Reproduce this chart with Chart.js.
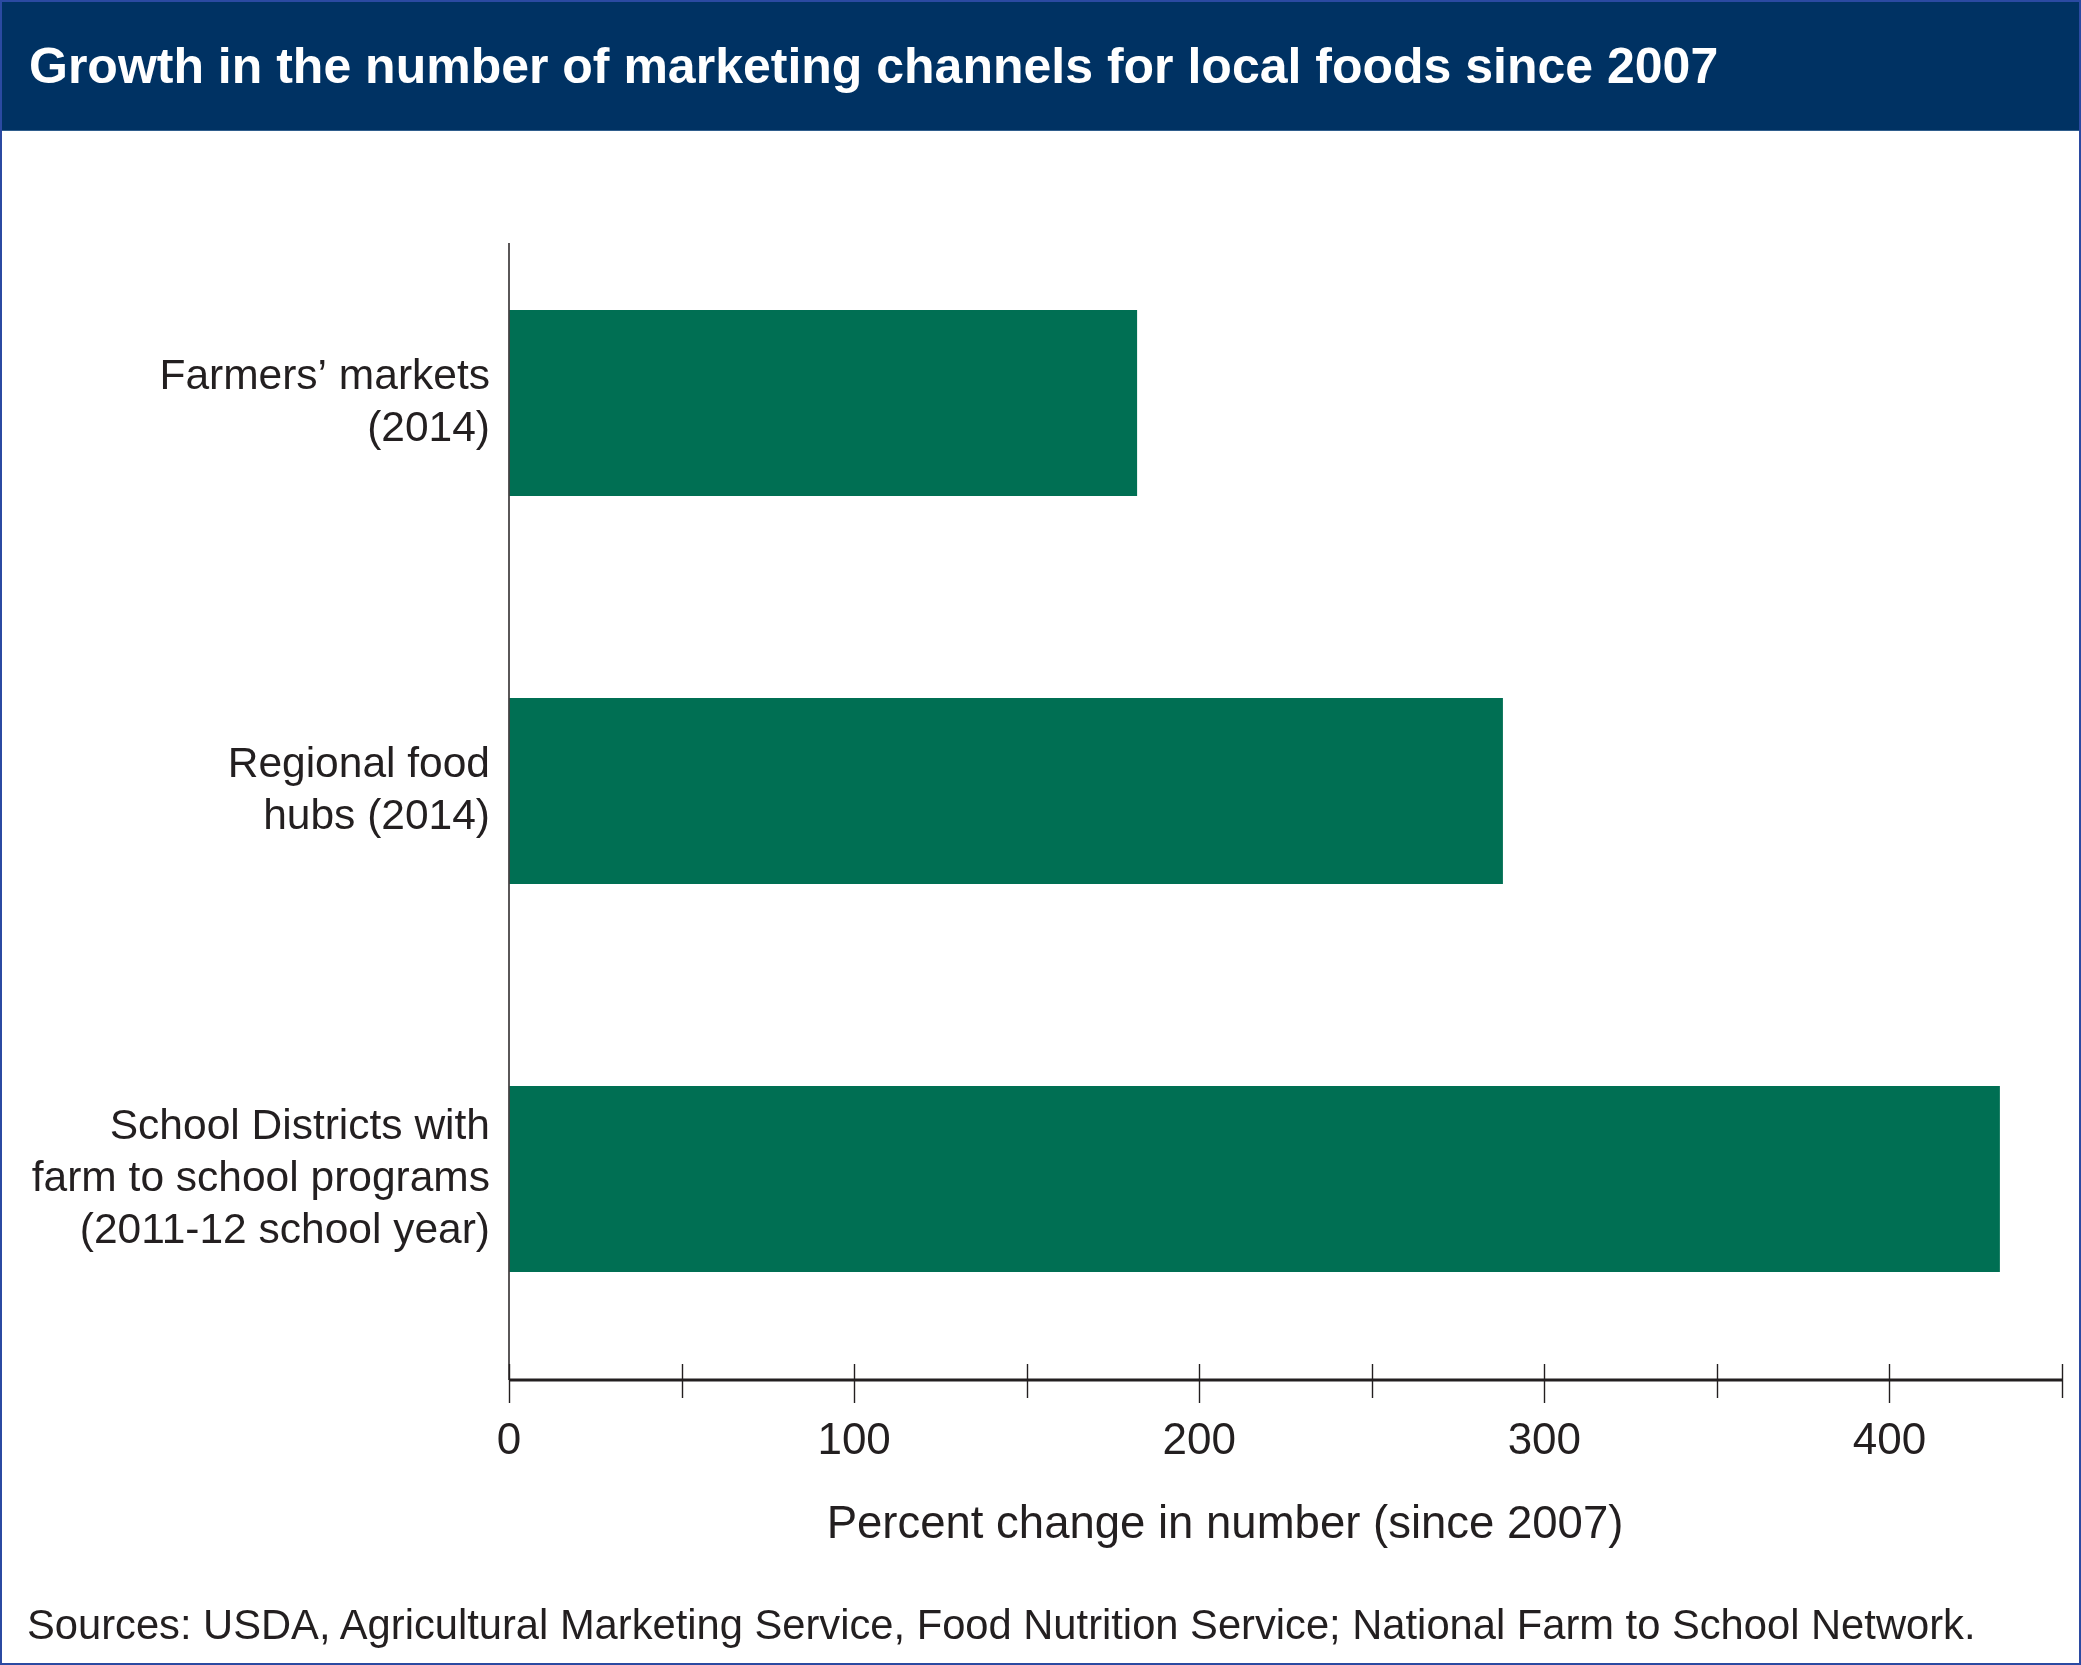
<!DOCTYPE html>
<html>
<head>
<meta charset="utf-8">
<script src="https://cdn.jsdelivr.net/npm/chart.js@4.4.1/dist/chart.umd.min.js"></script>
<style>
  html, body { margin: 0; padding: 0; background: #fff; }
  #page { position: relative; width: 2081px; height: 1665px; overflow: hidden;
          font-family: "Liberation Sans", Arial, Helvetica, sans-serif; color: #231f20; }
  #frame { position: absolute; left: 0; top: 0; width: 2081px; height: 1665px;
           box-sizing: border-box; border: 2px solid #2b4aa2; pointer-events: none; z-index: 3; }
  #banner { position: absolute; left: 0; top: 0; width: 2081px; height: 131px;
            background: #003263; border-bottom: 1px solid #2f5d8c; box-sizing: border-box; }
  #title { position: absolute; left: 29px; top: 41px; font-size: 50px; line-height: 50px;
           font-weight: bold; color: #fff; white-space: nowrap; }
  #chartBox { position: absolute; left: 0; top: 0; width: 2081px; height: 1665px; }
  #xTitle { position: absolute; left: 1225px; top: 1500px; transform: translateX(-50%);
            font-size: 45.5px; line-height: 45px; white-space: nowrap; }
  #source { position: absolute; left: 27px; top: 1604px; font-size: 41.7px; line-height: 42px;
            white-space: nowrap; }
</style>
</head>
<body>
<div id="page">
  <div id="banner"><div id="title">Growth in the number of marketing channels for local foods since 2007</div></div>
  <div id="chartBox"><canvas id="growthChart"></canvas></div>
  <div id="xTitle">Percent change in number (since 2007)</div>
  <div id="source">Sources: USDA, Agricultural Marketing Service, Food Nutrition Service; National Farm to School Network.</div>
  <div id="frame"></div>
</div>
<script>
// Data
const channels = [
    ['Farmers\u2019 markets', '(2014)'],
    ['Regional food', 'hubs (2014)'],
    ['School Districts with', 'farm to school programs', '(2011-12 school year)']
];
const percentChange = [182, 288, 432];
const xMin = 0;
const xMax = 450;
const xStep = 50;
const labelEvery = 100;

const inkColor = '#231f20';
const barColor = '#006f53';
const fontFamily = '"Liberation Sans", Arial, Helvetica, sans-serif';
const axisGap = 7; // the x axis sits a little below the last category band

// Axis lines and crossing tick marks, drawn from the scales
const axisLines = {
    id: 'axisLines',
    afterDraw(chart) {
        const ctx = chart.ctx;
        const x = chart.scales.x;
        const area = chart.chartArea;
        const zeroX = x.getPixelForValue(0);
        const axisY = area.bottom + axisGap;
        ctx.save();
        ctx.strokeStyle = inkColor;

        // vertical axis, starts a bit below the top of the plot
        ctx.lineWidth = 1.5;
        ctx.beginPath();
        ctx.moveTo(zeroX, area.top + 34);
        ctx.lineTo(zeroX, axisY);
        ctx.stroke();

        // horizontal axis
        ctx.lineWidth = 3;
        ctx.beginPath();
        ctx.moveTo(area.left, axisY);
        ctx.lineTo(area.right, axisY);
        ctx.stroke();

        // ticks
        ctx.lineWidth = 1.4;
        x.ticks.forEach(t => {
            const px = Math.round(x.getPixelForValue(t.value)) + 0.5;
            const major = t.value % labelEvery === 0;
            ctx.beginPath();
            ctx.moveTo(px, axisY - 16);
            ctx.lineTo(px, axisY + (major ? 23 : 18));
            ctx.stroke();
        });
        ctx.restore();
    }
};

const ctx = document.getElementById('growthChart').getContext('2d');
const growthChart = new Chart(ctx, {
    type: 'bar',
    data: {
        labels: channels,
        datasets: [{
            label: 'Percent change',
            data: percentChange,
            backgroundColor: barColor,
            borderWidth: 0,
            categoryPercentage: 1,
            barPercentage: 0.48
        }]
    },
    options: {
        indexAxis: 'y',
        responsive: true,
        maintainAspectRatio: false,
        devicePixelRatio: 1,
        animation: false,
        layout: {
            padding: { left: 0, right: 19, top: 209, bottom: 192 }
        },
        plugins: {
            legend: { display: false },
            tooltip: { enabled: false }
        },
        scales: {
            x: {
                type: 'linear',
                min: xMin,
                max: xMax,
                // invisible tick marks only reserve room above the labels
                grid: { display: true, drawOnChartArea: false, drawTicks: true,
                        tickLength: 23, color: 'rgba(0,0,0,0)' },
                border: { display: false },
                ticks: {
                    stepSize: xStep,
                    autoSkip: false,
                    maxRotation: 0,
                    padding: 19,
                    color: inkColor,
                    font: { family: fontFamily, size: 44 },
                    callback: v => (v % labelEvery === 0 ? v : '')
                },
                afterFit: s => { s.height = 100; }
            },
            y: {
                type: 'category',
                grid: { display: false, drawTicks: false },
                border: { display: false },
                ticks: {
                    padding: 19,
                    color: inkColor,
                    font: { family: fontFamily, size: 42.5, lineHeight: 1.225 }
                },
                afterFit: s => { s.width = 509; }
            }
        }
    },
    plugins: [axisLines]
});
</script>
</body>
</html>
